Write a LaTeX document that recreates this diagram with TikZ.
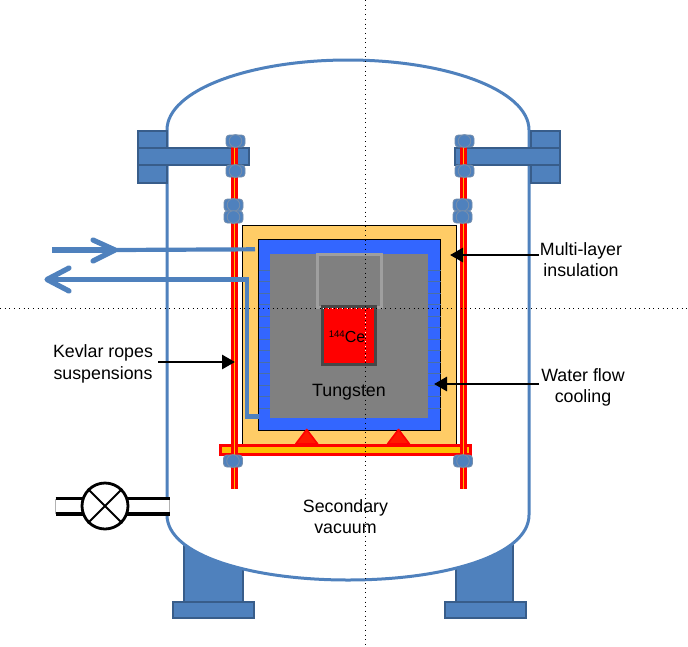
\documentclass[tikz,border=0pt]{standalone}
\usepackage{fontspec}
\setmainfont{Liberation Sans}
\usetikzlibrary{arrows.meta}
\definecolor{sbl}{HTML}{4F81BD}
\definecolor{sbd}{HTML}{385D8A}
\definecolor{cool}{HTML}{3366FF}
\definecolor{mli}{HTML}{FFCC66}
\definecolor{gold}{HTML}{FFC000}
\definecolor{finc}{HTML}{4A6FA5}
\tikzset{
 steel/.style={fill=sbl,draw=sbd,line width=2.4pt},
 lbl/.style={font=\fontsize{17.8}{21.5}\selectfont,align=center,inner sep=0pt,text=black},
 callout/.style={-{Triangle[length=13pt,width=14pt]},line width=2.8pt,black},
 fin/.style={draw=finc,line width=1pt},
 nutpart/.style={fill=sbl,draw=sbd!70,line width=.9pt},
 pipeline/.style={draw=sbl,line width=4.2pt},
 pipethick/.style={draw=sbl,line width=5.2pt,line cap=round,line join=round},
 rope/.style={draw=red,line width=7pt},
 ropecore/.style={draw=gold,line width=1.4pt},
 pipewall/.style={draw=black,line width=3.2pt},
 crossdots/.style={line width=.8pt,dash pattern=on .8pt off 3.9pt}
}
\newcommand{\nut}[2]{%
 \path[nutpart,rounded corners=3.5pt] (#1-9.5,#2-6) rectangle (#1+9.5,#2+6);
 \path[nutpart] (#1,#2) circle (6.3);
}
\begin{document}
\begin{tikzpicture}[x=1pt,y=-1pt]
\useasboundingbox (0,0) rectangle (688,646);
% feet
\path[steel] (184,530) rectangle (243,604);
\path[steel] (456,530) rectangle (513,604);
\path[steel] (173,602) rectangle (254,618);
\path[steel] (445,602) rectangle (526,618);
% vessel
\path[fill=white,draw=sbl,line width=3pt]
 (167,130) .. controls (167,90) and (250,60) .. (348,60)
 .. controls (446,60) and (529,90) .. (529,130)
 -- (529,515) .. controls (529,555) and (446,580) .. (348,580)
 .. controls (250,580) and (167,555) .. (167,515) -- cycle;
% multilayer insulation and core
\node[draw=black,line width=1pt,fill=mli,minimum width=214pt,minimum height=222pt,inner sep=0pt] (mli) at (349.7,336) {};
\node[draw=black,line width=1pt,fill=cool,minimum width=182pt,minimum height=191pt,inner sep=0pt] (cooling) at (349.7,334.7) {};
\node[fill=gray,minimum width=158pt,minimum height=164pt,inner sep=0pt] (tungsten) at (349,336) {};
\foreach \y in {270.7,281.3,293.3,304.3,316.7,327.3,339.3,350.3,362.7,373.3,385.3,396.7,408.7}{
 \draw[fin] (259,\y) -- (270,\y);
 \draw[fin] (427.5,\y) -- (440.5,\y);
}
\node[draw=gray!75!white,line width=3pt,minimum width=64pt,minimum height=53pt,inner sep=0pt] (plug) at (349,281) {};
\node[draw=black!72,fill=red,line width=3pt,minimum width=53pt,minimum height=58pt,inner sep=0pt] (source) at (348.5,335.7) {};
\node[lbl,font=\fontsize{16}{20}\selectfont] (ce) at (347,337) {\raisebox{5pt}{\fontsize{9.6}{10}\selectfont 144}Ce};
\node[lbl] (tlabel) at (349,392) {Tungsten};
% triangles
\foreach \x in {306.7,398.5}{
 \path[fill=red!80!orange,draw=red,line width=1.6pt,line join=round] (\x,429.5) -- (\x+11,444) -- (\x-11,444) -- cycle;
}
% flanges
\path[steel] (138,131) rectangle (167,183);
\path[steel] (531,131) rectangle (560,183);
\path[steel] (138,148) rectangle (249,165);
\path[steel] (455,148) rectangle (560,165);
% support
\node[draw=red,fill=gold,line width=3pt,minimum width=250pt,minimum height=9pt,inner sep=0pt] (support) at (345.5,449.5) {};
% ropes
\foreach \x in {234.5,463.5}{
 \draw[rope] (\x,135) -- (\x,489);
 \draw[ropecore] (\x,135) -- (\x,489);
}
% nuts
\nut{235.5}{141}\nut{235.5}{171}\nut{233.5}{205}\nut{233.5}{217}\nut{233}{461}
\nut{464.5}{141}\nut{464.5}{171}\nut{462.5}{205}\nut{462.5}{217}\nut{463}{461}
% cooling pipes
\coordinate (inflowstart) at (52,250);
\coordinate (inflowtip) at (115,250);
\coordinate (inflowend) at (255,249.3);
\coordinate (outflowtip) at (47,279.5);
\coordinate (outflowbend) at (246.7,279.5);
\coordinate (outflowlow) at (246.7,416.5);
\coordinate (outflowend) at (259,416.5);
\draw[pipeline] (inflowtip) -- (inflowend);
\draw[pipethick,line cap=butt] (inflowstart) -- (inflowtip);
\draw[pipethick] (93,240) -- (inflowtip) -- (93,261);
\draw[pipeline] (outflowend) -- (outflowlow) -- (outflowbend) -- (100,279.5);
\draw[pipethick,line cap=butt] (100,279.5) -- (outflowtip);
\draw[pipethick] (69,268) -- (outflowtip) -- (69,291);
% valve
\fill[white] (55,499) rectangle (170,514);
\draw[gray!60,line width=.6pt] (55.5,499) -- (55.5,514) (169,499) -- (169,514);
\draw[pipewall] (55.5,498.7) -- (169.5,498.7) (55.5,514) -- (169.5,514);
\node[circle,draw=black,fill=white,line width=2.8pt,minimum size=46pt,inner sep=0pt] (valve) at (105,506) {};
\draw[black,line width=1.8pt] (valve.north west) -- (valve.south east) (valve.north east) -- (valve.south west);
% labels
\node[lbl] (mlilabel) at (581,259.5) {Multi-layer\\insulation};
\node[lbl] (waterlabel) at (583,387.5) {Water flow\\cooling};
\node[lbl] (kevlarlabel) at (103,364) {Kevlar ropes\\suspensions};
\node[lbl] (vaclabel) at (345.5,516.5) {Secondary\\vacuum};
\coordinate (mlitip) at (450,255);
\coordinate (watertip) at (434,384);
\coordinate (kevlartip) at (235,362);
\coordinate (m0) at (539,255);
\coordinate (w0) at (539,384);
\coordinate (k0) at (158,362);
\draw[callout] (m0) -- (mlitip);
\draw[callout] (w0) -- (watertip);
\draw[callout] (k0) -- (kevlartip);
% crosshair
\draw[black,crossdots] (365,0) -- (365,646);
\draw[black,crossdots] (0,308) -- (688,308);
\draw[white,crossdots] (323,308) -- (374,308) (365,308) -- (365,364);
\end{tikzpicture}
\end{document}
